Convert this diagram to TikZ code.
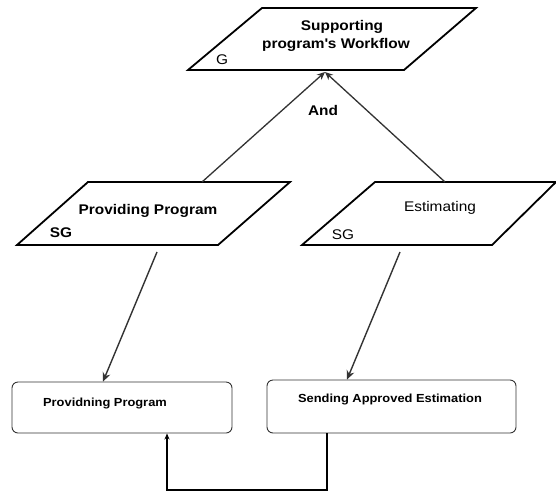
\documentclass[tikz,border=0pt]{standalone}
\usepackage{fontspec}
\setmainfont{Liberation Sans}[FakeStretch=1.1]
\usetikzlibrary{arrows.meta}
\begin{document}
\begin{tikzpicture}[x=1pt,y=-1pt,
  para/.style={draw=black,line width=1.8pt,line join=miter},
  boxsh/.style={draw=black!80,line width=0.9pt,rounded corners=6pt,minimum width=#1,inner sep=0pt},
  lbl/.style={inner sep=0pt,font=\fontsize{14}{16}\selectfont\bfseries},
  lblr/.style={inner sep=0pt,font=\fontsize{14}{16}\selectfont},
  blbl/.style={inner sep=0pt,font=\fontsize{11.7}{14}\selectfont\bfseries},
  up/.style={draw=black!80,line width=1.3pt,-{Stealth[length=8pt,width=7pt]}},
  down/.style={draw=black!80,line width=1.4pt,-{Stealth[length=9pt,width=8pt]}},
  back/.style={draw=black,line width=1.4pt,-{Stealth[length=6pt,width=5pt]}}
]
\fill[white] (0,0) rectangle (556,493);
\useasboundingbox (0,0) rectangle (556,493);
% parallelograms
\draw[para] (262,8) -- (476,8) -- (404,70) -- (188,70) -- cycle;
\draw[para] (88,182) -- (290,182) -- (218,245) -- (17,245) -- cycle;
\draw[para] (375,182) -- (556,182) -- (492,245) -- (302,245) -- cycle;
% connection coordinates
\coordinate (gtip) at (325,72);
\coordinate (ppTop) at (202,182);
\coordinate (esTop) at (445,182);
\coordinate (ppBot) at (157,252);
\coordinate (esBot) at (400,252);
% texts in goal shapes
\node[lbl] (g1) at (342,27) {Supporting};
\node[lbl] (g2) at (336,45) {program\textquotesingle s Workflow};
\node[lblr] (gG) at (222,60) {G};
\node[lbl] (and) at (323,110) {And};
\node[lbl] (pp) at (148,211) {Providing Program};
\node[lbl] (sg1) at (61,233) {SG};
\node[lblr] (es) at (440,208) {Estimating};
\node[lblr] (sg2) at (343,235) {SG};
% boxes
\node[boxsh=220pt,minimum height=51pt] (b1) at (122,407.5) {};
\node[boxsh=249pt,minimum height=53pt] (b2) at (391.5,406.5) {};
\node[blbl] (t1) at (105,403) {Providning Program};
\node[blbl] (t2) at (390,399) {Sending Approved Estimation};
% connectors
\draw[up] (ppTop) -- (gtip);
\draw[up] (esTop) -- (gtip);
\draw[down] (ppBot) -- (b1.north -| 103,0);
\draw[down] (esBot) -- (b2.north -| 347,0);
\draw[back] (b2.south -| 327,0) -- (327,490) -- (167,490) -- (b1.south -| 167,0);
\end{tikzpicture}
\end{document}
